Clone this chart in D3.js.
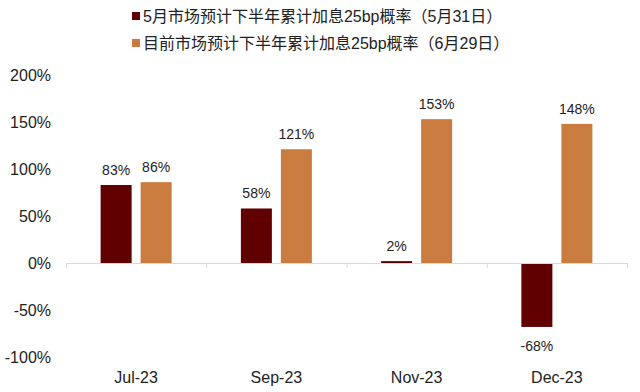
<!DOCTYPE html>
<html>
<head>
<meta charset="utf-8">
<script src="https://cdn.jsdelivr.net/npm/d3@7"></script>
<style>
  body { margin: 0; background: #fff; }
  text { font-family: "Liberation Sans", Arial, "Noto Sans CJK SC", sans-serif; fill: #222; }
</style>
</head>
<body>
<script>
const categories = ["Jul-23", "Sep-23", "Nov-23", "Dec-23"],
      seriesNames = ["5月市场预计下半年累计加息25bp概率（5月31日）",
                     "目前市场预计下半年累计加息25bp概率（6月29日）"],
      may31 = [0.83, 0.58, 0.02, -0.68],
      jun29 = [0.86, 1.21, 1.53, 1.48],
      yTicks = [-1, -0.5, 0, 0.5, 1, 1.5, 2],
      colors = ["#600000", "#c97b40"];

const width = 640, height = 392,
      margin = {top: 75, right: 13, bottom: 35, left: 66};

const svg = d3.select("body")
  .append("svg")
  .attr("width", width)
  .attr("height", height);

const data = categories.map((c, i) => ({cat: c, values: [may31[i], jun29[i]]}));

const xScale = d3.scaleBand()
  .domain(categories)
  .range([margin.left, width - margin.right]);

const inner = d3.scaleBand()
  .domain([0, 1])
  .range([0, 71])
  .paddingInner(0.225);

const yScale = d3.scaleLinear()
  .domain([-1, 2])
  .range([height - margin.bottom, margin.top]);

const fmt = (v) => Math.round(v * 100) + "%";

// y axis labels (no line)
const yAxis = d3.axisLeft(yScale)
  .tickValues(yTicks)
  .tickFormat(fmt)
  .tickSize(0)
  .tickPadding(0);

svg.append("g")
  .attr("transform", "translate(" + 51 + ",0)")
  .call(yAxis)
  .call(g => g.select(".domain").remove())
  .selectAll("text")
  .style("font-size", "16px")
  .attr("fill", "#222");

// bars
const groups = svg.selectAll(".cat")
  .data(data).enter()
  .append("g")
  .attr("class", "cat")
  .attr("transform", (d) => "translate(" + (xScale(d.cat) + xScale.bandwidth() / 2 - 35.5) + ",0)");

groups.selectAll("rect")
  .data((d) => d.values).enter()
  .append("rect")
  .attr("x", (v, i) => inner(i))
  .attr("y", (v) => yScale(Math.max(0, v)))
  .attr("width", inner.bandwidth())
  .attr("height", (v) => Math.abs(yScale(v) - yScale(0)))
  .attr("fill", (v, i) => colors[i]);

groups.selectAll(".lbl")
  .data((d) => d.values).enter()
  .append("text")
  .attr("class", "lbl")
  .attr("x", (v, i) => inner(i) + inner.bandwidth() / 2)
  .attr("y", (v) => v >= 0 ? yScale(v) - 10 : yScale(v) + 24)
  .attr("text-anchor", "middle")
  .style("font-size", "14px")
  .text(fmt);

// x axis at zero
const xAxis = d3.axisBottom(xScale)
  .tickSize(0)
  .tickPadding(0);

const xg = svg.append("g")
  .attr("transform", "translate(0," + yScale(0) + ")")
  .call(xAxis);
xg.select(".domain").attr("stroke", "#d9d9d9");
xg.selectAll("text").remove();

// band boundary ticks
const bounds = categories.map((c) => xScale(c)).concat([xScale.range()[1]]);
svg.append("g")
  .selectAll("line")
  .data(bounds).enter()
  .append("line")
  .attr("x1", (d) => d + 0.5)
  .attr("x2", (d) => d + 0.5)
  .attr("y1", yScale(0))
  .attr("y2", yScale(0) + 5)
  .attr("stroke", "#d9d9d9");

// category labels at bottom
svg.append("g")
  .selectAll("text")
  .data(categories).enter()
  .append("text")
  .attr("x", (d) => xScale(d) + xScale.bandwidth() / 2)
  .attr("y", 383)
  .attr("text-anchor", "middle")
  .style("font-size", "16px")
  .text((d) => d);

// legend
const legend = svg.append("g")
  .selectAll("g")
  .data(seriesNames).enter()
  .append("g")
  .attr("transform", (d, i) => "translate(132," + (16 + i * 27) + ")");

legend.append("rect")
  .attr("x", 0)
  .attr("y", -4)
  .attr("width", 8)
  .attr("height", 8)
  .attr("fill", (d, i) => colors[i]);

legend.append("text")
  .attr("x", 11)
  .attr("y", 6)
  .style("font-size", "16px")
  .text((d) => d);
</script>
</body>
</html>
